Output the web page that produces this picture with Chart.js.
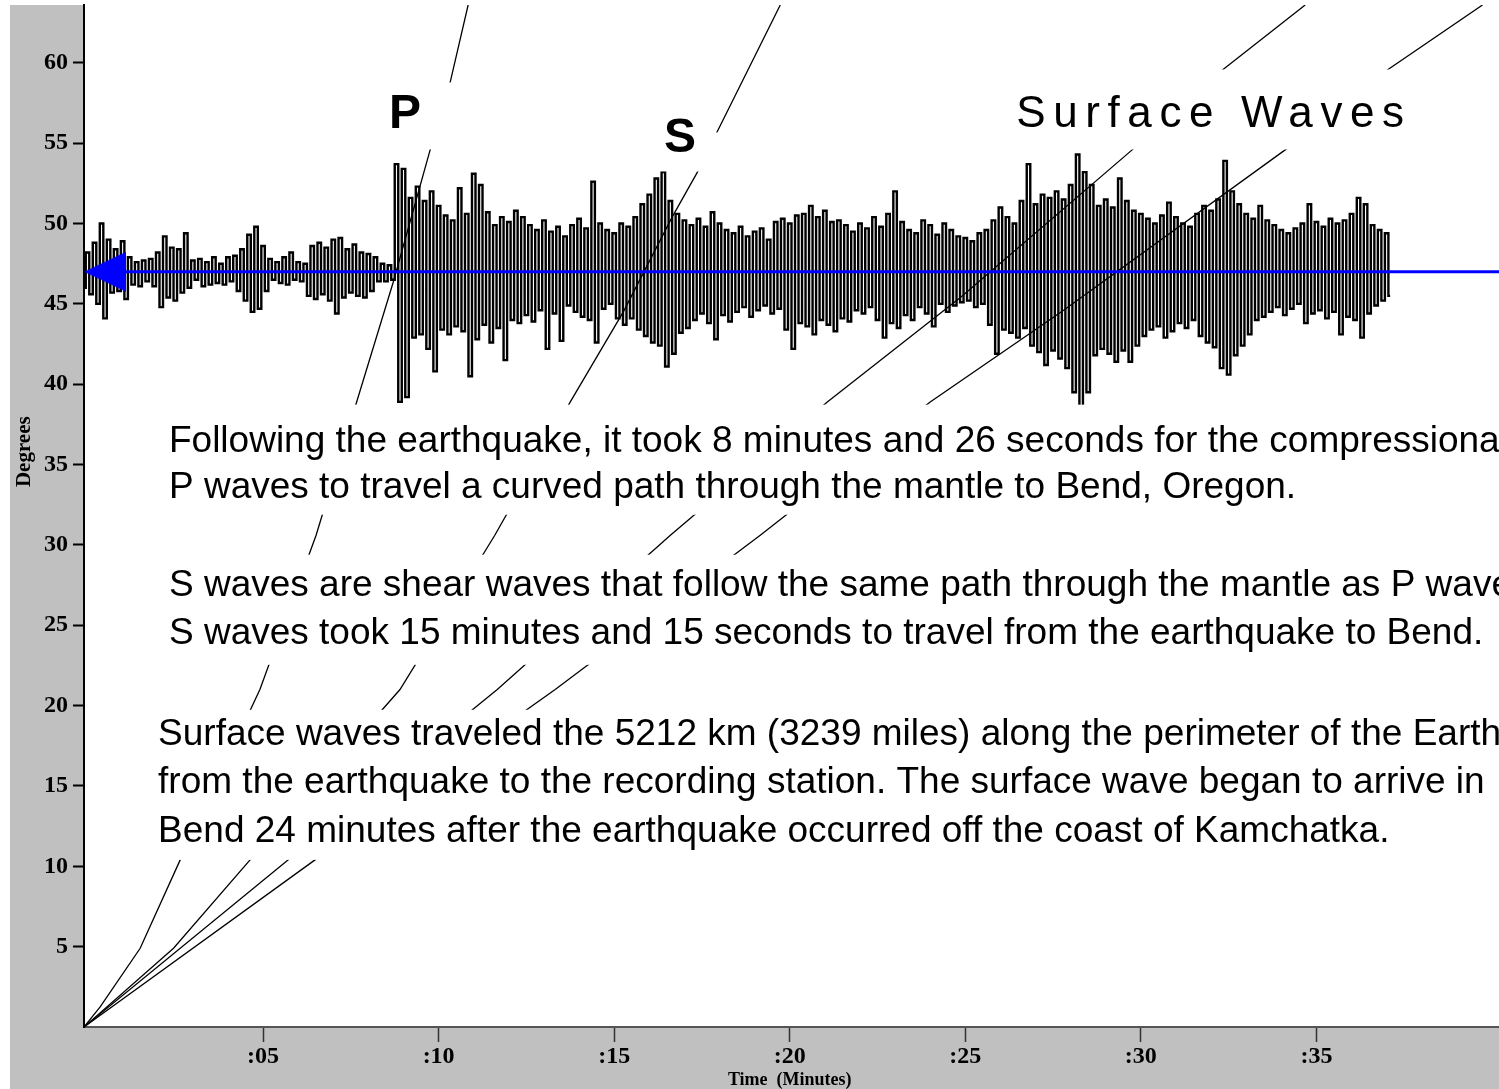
<!DOCTYPE html>
<html lang="en">
<head>
<meta charset="utf-8">
<title>Seismogram - Kamchatka earthquake recorded in Bend, Oregon</title>
<script src="https://cdn.jsdelivr.net/npm/chart.js@4.4.1/dist/chart.umd.min.js"></script>
<style>
  html, body { margin: 0; padding: 0; background: #ffffff; }
  #seismoChart { display: block; }
</style>
</head>
<body>
<canvas id="seismoChart" width="1499" height="1089"></canvas>
<script>
// Axes: time in minutes, distance in degrees
const timeTicks = [5, 10, 15, 20, 25, 30, 35];
const degreeTicks = [5, 10, 15, 20, 25, 30, 35, 40, 45, 50, 55, 60];
const timeRange = [-0.1, 40.2];
const degreeRange = [0, 63.6];

// Travel-time curves: [minutes, degrees]
const pCurve = [[-0.1, 0], [0.36, 1.25], [1.5, 4.9], [2.64, 10.4], [4.91, 21], [6.51, 30.6], [7.68, 39],
  [8.7, 46.3], [9.76, 54.6], [10.33, 58.8], [10.84, 63.6]];
const sCurve = [[-0.1, 0], [2.45, 4.9], [4.63, 10.4], [8.9, 21], [11.6, 30.6], [13.75, 38.9],
  [15.26, 44.5], [16.65, 50.4], [17.37, 53.2], [17.93, 55.7], [19.73, 63.6]];
const surfaceCurve1 = [[-0.1, 0], [5.71, 10.4], [11.67, 21], [16.6, 30.6], [21.07, 38.9],
  [24.86, 45.4], [29.76, 54.6], [32.35, 59.6], [34.68, 63.6]];
const surfaceCurve2 = [[-0.1, 0], [6.48, 10.4], [13.32, 21], [19.16, 30.6], [24.0, 38.9],
  [27.8, 44.6], [34.12, 54.6], [37.05, 59.6], [39.73, 63.6]];

// Seismogram: offsets (degrees) from the 47 degree baseline, one sample every 0.1 minute
const traceBaseline = 47;
const traceStep = 0.1;

const preEventStart = -0.1;
const preEvent = [
  -1.0, 1.2, -1.4, 1.8, -2.0, 3.0, -2.9, 2.0, -1.3, 1.4,
  -1.2, 1.9, -1.7, 0.9, -0.8, 0.6, -0.9, 0.7, -0.6, 0.8,
  -0.9, 1.2, -2.2, 2.2, -1.6, 1.5, -1.8, 1.4, -1.3, 2.4,
  -1.0, 0.7, -0.5, 0.8, -0.9, 0.6, -0.8, 0.9, -0.7, 0.5,
  -0.8, 0.9, -0.6, 1.0, -1.2, 1.4, -1.8, 2.3, -2.5, 2.8,
  -2.3, 1.6, -1.2, 0.8, -0.5, 0.6, -0.7, 0.9, -0.8, 1.2,
  -0.5, 0.6, -0.6, 0.5, -1.5, 1.6, -1.7, 1.8, -1.4, 1.5,
  -1.8, 2.0, -2.6, 2.1, -1.6, 1.4, -1.3, 1.7, -1.5, 1.2,
  -1.6, 1.1, -1.2, 0.9, -0.6, 0.5, -0.6, 0.4, -0.5
];

const pWaveStart = 8.8;
const pWave = [
  6.7, -8.1, 6.4, -7.8, 4.6, -4.1, 5.3, -3.9, 4.4, -4.8,
  5.0, -6.2, 4.1, -3.6, 3.5, -3.9, 3.2, -3.4, 5.2, -3.7,
  3.6, -6.5, 6.1, -4.2, 5.4, -3.3, 3.7, -4.4, 2.9, -3.5,
  3.4, -5.5, 3.1, -3.0, 3.8, -3.2, 3.4, -2.7, 2.9, -3.1,
  2.6, -2.4, 3.2, -4.8, 2.5, -2.6, 2.8, -4.3, 2.2, -2.1,
  2.9, -2.5, 3.3, -2.8, 2.7, -3.0, 5.6, -4.4, 3.0, -2.3,
  2.6, -2.0, 2.4, -2.9
];

const sWaveStart = 15.2;
const sWave = [
  3.0, -3.3, 2.8, -2.9, 3.4, -3.6, 4.2, -4.0,
  4.8, -4.4, 5.8, -4.6, 6.2, -5.9, 4.4, -5.1, 3.6, -3.8,
  3.2, -3.5, 2.9, -3.0, 3.3, -2.6, 2.8, -3.2, 3.7, -4.2,
  3.0, -2.7, 2.6, -3.1, 2.4, -2.5, 2.8, -2.2, 2.2, -2.8,
  2.5, -2.4, 2.7, -2.1, 2.0, -2.6, 3.1, -2.3, 3.3, -3.6,
  3.0, -4.8, 3.5, -3.2, 3.6, -3.4, 4.1, -3.9, 3.4, -3.0,
  3.8, -3.3, 3.1, -3.7, 3.2, -2.9, 2.9, -3.1, 2.5, -2.4,
  3.0, -2.6, 2.7, -2.2, 3.4, -3.0, 2.8, -4.1, 3.6, -3.2,
  5.0, -3.5, 3.1, -2.7, 2.6, -3.0, 2.4, -2.2, 3.2, -2.6,
  2.9, -3.4, 2.3, -2.0, 3.0, -2.5, 2.6, -2.1, 2.2, -1.9,
  2.1, -1.8
];

const surfaceWaveStart = 25.2;
const surfaceWave = [
  1.9, -2.2, 2.4, -2.0, 2.6, -3.3, 3.2, -5.1,
  4.0, -3.6, 3.4, -3.8, 3.0, -4.1, 4.4, -3.5, 6.7, -4.6,
  4.2, -5.0, 4.8, -5.8, 4.6, -4.9, 5.0, -5.4, 4.5, -6.0,
  5.4, -7.5, 7.3, -8.4, 6.2, -7.5, 5.4, -5.2, 4.1, -4.8,
  4.5, -5.1, 4.0, -5.6, 5.8, -4.9, 4.4, -5.6, 3.8, -4.6,
  3.6, -4.0, 3.3, -3.6, 3.0, -3.4, 3.5, -4.1, 4.3, -3.7,
  3.4, -3.2, 3.0, -3.5, 2.8, -3.0, 3.6, -4.0, 4.1, -4.4,
  3.8, -4.7, 4.5, -6.0, 6.9, -6.4, 5.0, -5.2, 4.2, -4.6,
  3.6, -3.9, 3.3, -3.0, 4.1, -2.8, 3.2, -2.5, 2.9, -2.2,
  2.6, -2.7, 2.4, -2.3, 2.7, -2.0, 3.0, -3.2, 4.2, -2.6,
  3.1, -2.4, 2.8, -2.9, 3.3, -2.5, 3.0, -3.9, 3.2, -2.8,
  3.6, -3.0, 4.6, -4.1, 4.2, -2.6, 2.9, -2.1, 2.6, -1.8,
  2.4, -1.5
];

// Blue station marker line
const markerDegrees = 47;
const markerStart = 0.5;
const markerEnd = 40.2;

// White panels behind the captions (in chart units), they hide the curves
const captionPanels = [
  { t0: 8.33, t1: 10.5, d0: 54.61, d1: 58.78 },
  { t0: 16.17, t1: 18.19, d0: 53.24, d1: 55.67 },
  { t0: 26.0, t1: 40.2, d0: 54.61, d1: 59.59 },
  { t0: 1.78, t1: 40.2, d0: 31.88, d1: 38.73 },
  { t0: 1.78, t1: 40.2, d0: 22.54, d1: 29.39 },
  { t0: 1.78, t1: 40.2, d0: 10.4, d1: 19.74 }
];

const bodyFont = '37px "Liberation Sans", Arial, sans-serif';
const labelFont = 'bold 48px "Liberation Sans", Arial, sans-serif';
const captions = [
  { text: 'P', t: 8.59, deg: 55.92, font: labelFont },
  { text: 'S', t: 16.42, deg: 54.48, font: labelFont },
  { text: 'Surface Waves', t: 26.45, deg: 55.98, font: '44px "Liberation Sans", Arial, sans-serif', spacing: 7.6 },
  { text: 'Following the earthquake, it took 8 minutes and 26 seconds for the compressional', t: 2.32, deg: 35.8, font: bodyFont },
  { text: 'P waves to travel a curved path through the mantle to Bend, Oregon.', t: 2.32, deg: 32.94, font: bodyFont },
  { text: 'S waves are shear waves that follow the same path through the mantle as P waves.', t: 2.32, deg: 26.84, font: bodyFont },
  { text: 'S waves took 15 minutes and 15 seconds to travel from the earthquake to Bend.', t: 2.32, deg: 23.85, font: bodyFont },
  { text: 'Surface waves traveled the 5212 km (3239 miles) along the perimeter of the Earth', t: 2.01, deg: 17.56, font: bodyFont },
  { text: 'from the earthquake to the recording station. The surface wave began to arrive in', t: 2.01, deg: 14.57, font: bodyFont },
  { text: 'Bend 24 minutes after the earthquake occurred off the coast of Kamchatka.', t: 2.01, deg: 11.52, font: bodyFont }
];

// Turn [t, deg] pairs into chart points
function toPoints(pairs) {
  return pairs.map(p => ({ x: p[0], y: p[1] }));
}

// One segment of the seismogram
function buildTrace(start, values) {
  return values.map((v, i) => ({
    x: Math.round((start + i * traceStep) * 100) / 100,
    y: traceBaseline + v
  }));
}

// Arrow head drawn once in a small canvas and used as point style
function makeArrow() {
  const c = document.createElement('canvas');
  c.width = 42;
  c.height = 40;
  const g = c.getContext('2d');
  g.fillStyle = '#0000ff';
  g.beginPath();
  g.moveTo(0, 20);
  g.lineTo(42, 0);
  g.lineTo(42, 40);
  g.closePath();
  g.fill();
  return c;
}

const traceData = [].concat(
  buildTrace(preEventStart, preEvent),
  buildTrace(pWaveStart, pWave),
  buildTrace(sWaveStart, sWave),
  buildTrace(surfaceWaveStart, surfaceWave)
);

function curveDataset(pairs) {
  return {
    data: toPoints(pairs),
    showLine: true,
    borderColor: '#000000',
    borderWidth: 1.3,
    pointRadius: 0,
    clip: 0,
    order: 2
  };
}

// No extra room for half tick labels: the plot must touch the edges
function dropPadding(scale) {
  scale.paddingTop = 0;
  scale.paddingBottom = 0;
  scale.paddingLeft = 0;
  scale.paddingRight = 0;
}

const overlayPlugin = {
  id: 'overlay',
  beforeDraw(chart) {
    const { ctx, chartArea: a } = chart;
    ctx.save();
    ctx.fillStyle = '#ffffff';
    ctx.fillRect(0, 0, chart.width, chart.height);
    ctx.fillStyle = '#c0c0c0';
    ctx.fillRect(10, a.top, a.left - 10, chart.height - a.top);
    ctx.fillRect(10, a.bottom, chart.width - 10, chart.height - a.bottom);
    ctx.restore();
  },
  afterDatasetsDraw(chart) {
    const { ctx, scales: { x, y } } = chart;
    ctx.save();
    // 1. panels that cut the travel-time curves
    ctx.fillStyle = '#ffffff';
    captionPanels.forEach(p => {
      const left = x.getPixelForValue(p.t0);
      const right = x.getPixelForValue(p.t1);
      const top = y.getPixelForValue(p.d1);
      const bottom = y.getPixelForValue(p.d0);
      ctx.fillRect(left, top, right - left, bottom - top);
    });
    // 2. captions
    ctx.fillStyle = '#000000';
    ctx.textAlign = 'left';
    ctx.textBaseline = 'alphabetic';
    captions.forEach(c => {
      ctx.font = c.font;
      ctx.letterSpacing = (c.spacing || 0) + 'px';
      ctx.fillText(c.text, x.getPixelForValue(c.t), y.getPixelForValue(c.deg));
    });
    ctx.letterSpacing = '0px';
    ctx.restore();
  },
  afterDraw(chart) {
    const { ctx, chartArea: a, scales: { x, y } } = chart;
    ctx.save();
    ctx.fillStyle = '#000000';
    ctx.textAlign = 'center';
    ctx.textBaseline = 'middle';
    ctx.font = 'bold 18px "Liberation Serif", "Times New Roman", serif';
    ctx.fillText('Time  (Minutes)', x.getPixelForValue(20), a.bottom + 53);
    ctx.translate(25, y.getPixelForValue(35.8));
    ctx.rotate(-Math.PI / 2);
    ctx.font = 'bold 21px "Liberation Serif", "Times New Roman", serif';
    ctx.fillText('Degrees', 0, 0);
    ctx.restore();
  }
};

const tickFont = { family: '"Liberation Serif", "Times New Roman", serif', size: 24, weight: 'bold' };

document.addEventListener('DOMContentLoaded', () => {
  const ctx = document.getElementById('seismoChart').getContext('2d');
  new Chart(ctx, {
    type: 'scatter',
    data: {
      datasets: [
        {
          data: [{ x: markerStart, y: markerDegrees }, { x: markerEnd, y: markerDegrees }],
          showLine: true,
          borderColor: '#0000ff',
          borderWidth: 3,
          pointStyle: [makeArrow(), false],
          pointRadius: [2, 0],
          pointHoverRadius: 0,
          clip: 0,
          order: 0
        },
        {
          data: traceData,
          showLine: true,
          stepped: 'middle',
          borderColor: '#000000',
          borderWidth: 2.4,
          pointRadius: 0,
          clip: 0,
          order: 1
        },
        curveDataset(pCurve),
        curveDataset(sCurve),
        curveDataset(surfaceCurve1),
        curveDataset(surfaceCurve2)
      ]
    },
    options: {
      responsive: false,
      animation: false,
      devicePixelRatio: 1,
      events: [],
      layout: { autoPadding: false, padding: { left: 10, top: 5, right: 0, bottom: 0 } },
      plugins: { legend: { display: false }, tooltip: { enabled: false } },
      elements: { point: { radius: 0, hoverRadius: 0 }, line: { tension: 0 } },
      scales: {
        x: {
          type: 'linear',
          min: timeRange[0],
          max: timeRange[1],
          afterFit: scale => { scale.height = 62; dropPadding(scale); },
          afterBuildTicks: scale => { scale.ticks = timeTicks.map(v => ({ value: v })); },
          border: { display: true, color: '#555555', width: 2 },
          grid: { drawOnChartArea: false, tickLength: 15, tickColor: '#333333', tickWidth: 1.5 },
          ticks: {
            color: '#000000',
            font: tickFont,
            padding: 0,
            maxRotation: 0,
            autoSkip: false,
            callback: value => ':' + String(value).padStart(2, '0')
          }
        },
        y: {
          type: 'linear',
          min: degreeRange[0],
          max: degreeRange[1],
          afterFit: scale => { scale.width = 74; dropPadding(scale); },
          afterBuildTicks: scale => { scale.ticks = degreeTicks.map(v => ({ value: v })); },
          border: { display: true, color: '#000000', width: 2 },
          grid: { drawOnChartArea: false, tickLength: 11, tickColor: '#000000', tickWidth: 2 },
          ticks: { color: '#000000', font: tickFont, padding: 5, autoSkip: false }
        }
      }
    },
    plugins: [overlayPlugin]
  });
});
</script>
</body>
</html>
